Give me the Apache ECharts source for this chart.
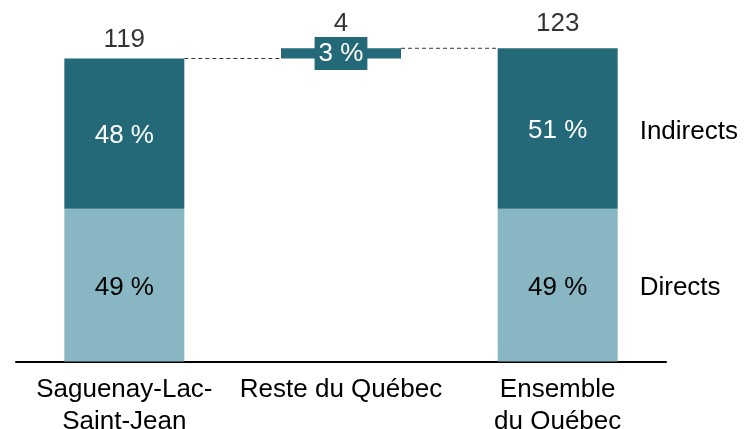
<!DOCTYPE html>
<html><head><meta charset="utf-8">
<script src="https://cdn.jsdelivr.net/npm/echarts@6/dist/echarts.min.js"></script>
<style>html,body{margin:0;padding:0;background:#fff}#c{width:754px;height:429px}</style>
</head><body><div id="c"></div>
<script>
var categories = ['Saguenay-Lac-\nSaint-Jean', 'Reste du Québec', 'Ensemble\ndu Québec'];
var baseValues = [0, 119, 0];
var directs = [60, '-', 60];
var indirects = [59, 4, 63];
var directsPct = ['49 %', '', '49 %'];
var indirectsPct = ['48 %', '3 %', '51 %'];
var totals = [119, 4, 123];
var totalLevels = [119, 123, 123];
var connectors = [[0, 119], [1, 123]];
var seriesNames = ['Directs', 'Indirects'];

var DARK = '#236978', LIGHT = '#88B6C2';
var FONT = 'Liberation Sans, Arial, sans-serif';
var BW = 120;

var chart = echarts.init(document.getElementById('c'));
chart.setOption({
  animation: false,
  grid: {left: 16, right: 88, top: 5, bottom: 67.5, containLabel: false, outerBoundsMode: 'none'},
  xAxis: {
    type: 'category', data: categories,
    axisLine: {lineStyle: {color: '#000', width: 2}},
    axisTick: {show: false},
    axisLabel: {color: '#000', fontSize: 26, fontFamily: FONT, lineHeight: 32, margin: 12, interval: 0}
  },
  yAxis: {type: 'value', min: 0, max: 140, show: false, splitLine: {show: false}},
  series: [
    {type: 'bar', stack: 'a', barWidth: BW, data: baseValues, itemStyle: {color: 'transparent'}, silent: true},
    {type: 'bar', stack: 'a', name: seriesNames[0], barWidth: BW, data: directs,
      itemStyle: {color: LIGHT},
      label: {show: true, position: 'inside', offset: [0, 3], color: '#000', fontSize: 26, fontFamily: FONT,
        formatter: function (p) { return directsPct[p.dataIndex]; }}},
    {type: 'bar', stack: 'a', name: seriesNames[1], barWidth: BW,
      data: indirects.map(function (v, i) {
        if (i === 1) {
          return {value: v, label: {backgroundColor: DARK, padding: [3, 4, 3, 4], lineHeight: 27, offset: [0, 0]}};
        }
        return v;
      }),
      itemStyle: {color: DARK},
      label: {show: true, position: 'inside', offset: [0, 2], color: '#fff', fontSize: 26, fontFamily: FONT,
        formatter: function (p) { return indirectsPct[p.dataIndex]; }}},
    {type: 'bar', stack: 'b', barGap: '-100%', barWidth: BW, data: ['-', '-', directs[2]],
      itemStyle: {color: 'transparent'}, silent: true, z: 1,
      label: {show: true, position: 'right', distance: 22, offset: [0, 3], color: '#000', fontSize: 26, fontFamily: FONT,
        formatter: function () { return seriesNames[0]; }}},
    {type: 'bar', stack: 'b', barWidth: BW, data: ['-', '-', indirects[2]],
      itemStyle: {color: 'transparent'}, silent: true, z: 1,
      label: {show: true, position: 'right', distance: 22, offset: [0, 3], color: '#000', fontSize: 26, fontFamily: FONT,
        formatter: function () { return seriesNames[1]; }}},
    {type: 'scatter', symbolSize: 1, itemStyle: {color: 'transparent'}, silent: true,
      data: totalLevels.map(function (v, i) {
        return {value: [i, v], label: {distance: i === 0 ? 5 : 11}};
      }),
      label: {show: true, position: 'top', color: '#000', fontSize: 26, fontFamily: FONT,
        formatter: function (p) { return String(totals[p.dataIndex]); }}},
    {type: 'custom', data: connectors, silent: true, z: 1,
      renderItem: function (params, api) {
        var i = api.value(0), v = api.value(1);
        var a = api.coord([i, v]), b = api.coord([i + 1, v]);
        return {type: 'line', shape: {x1: a[0] + BW / 2, y1: a[1], x2: b[0] - BW / 2, y2: b[1]},
          style: {stroke: '#333', lineWidth: 1, lineDash: [4, 3]}};
      }}
  ]
});
</script></body></html>
